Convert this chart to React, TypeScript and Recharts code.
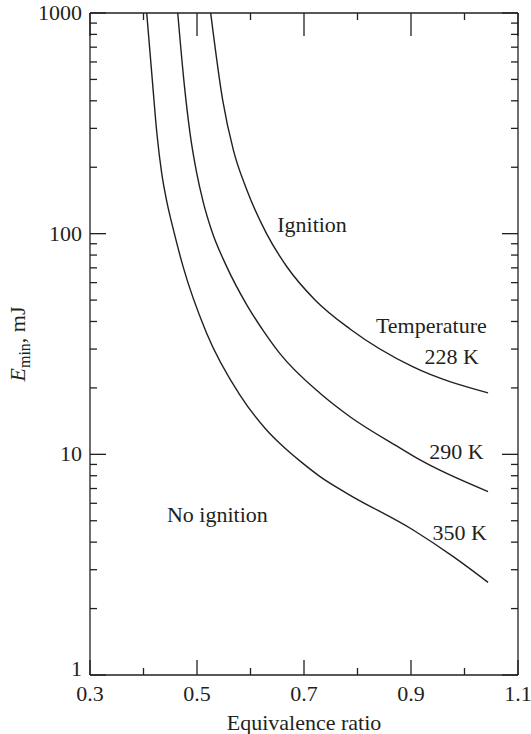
import React from "react";
import { LineChart, Line, XAxis, YAxis, ReferenceDot } from "recharts";

// Minimum ignition energy vs equivalence ratio, three initial temperatures
const phi228 = [0.5256, 0.548, 0.568, 0.593, 0.63, 0.668, 0.7206, 0.786, 0.904, 1.044];
const e228 = [1000, 403, 239, 158, 100, 70.8, 50.1, 37, 24.9, 19.0];

const phi290 = [0.464, 0.476, 0.487, 0.4995, 0.512, 0.527, 0.5555, 0.593, 0.626, 0.655, 0.73, 0.786, 0.879, 0.917, 1.044];
const e290 = [1000, 480, 285, 188, 138, 104, 70.9, 47.6, 35.7, 28.6, 18.9, 14.8, 10.7, 9.43, 6.78];

const phi350 = [0.406, 0.417, 0.425, 0.434, 0.443, 0.456, 0.474, 0.518, 0.58, 0.63, 0.655, 0.698, 0.73, 0.78, 0.904, 0.979, 1.044];
const e350 = [1000, 480, 285, 188, 142, 104, 70.9, 35.4, 18.6, 12.9, 11.2, 9.1, 7.93, 6.66, 4.54, 3.44, 2.63];

const xTicks = [0.3, 0.4, 0.5, 0.6, 0.7, 0.8, 0.9, 1.0, 1.1];
const xLabels = ["0.3", "0.5", "0.7", "0.9", "1.1"];
const yTicks = [1, 2, 3, 4, 5, 6, 7, 8, 9, 10, 20, 30, 40, 50, 60, 70, 80, 90, 100, 200, 300, 400, 500, 600, 700, 800, 900, 1000];

// text annotations [label, phi, E]
const notes: [string, number, number][] = [
  ["Ignition", 0.715, 109],
  ["Temperature", 0.938, 38.2],
  ["228 K", 0.976, 27.7],
  ["290 K", 0.985, 10.3],
  ["350 K", 0.991, 4.4],
  ["No ignition", 0.538, 5.3],
];

const ink = "#231f20";
const font = "'Liberation Serif', 'DejaVu Serif', serif";
const fs = 22;

const toRows = (xs: number[], ys: number[]) => xs.map((phi, i) => ({ phi, e: ys[i] }));

const fmtX = (v: number) => v.toFixed(1);
const isDecade = (v: number) => Math.abs(Math.log10(v) - Math.round(Math.log10(v))) < 1e-6;

const BottomTick = (props: any) => {
  const { x, y, payload } = props;
  const label = fmtX(payload.value);
  const major = xLabels.includes(label);
  return (
    <g>
      <line x1={x} y1={y} x2={x} y2={y - (major ? 15 : 7)} stroke={ink} strokeWidth={1.3} />
      {major && (
        <text x={x} y={y + 26} textAnchor="middle" fontFamily={font} fontSize={fs} fill={ink}>
          {label}
        </text>
      )}
    </g>
  );
};

const TopTick = (props: any) => {
  const { x, y, payload } = props;
  const major = xLabels.includes(fmtX(payload.value));
  return <line x1={x} y1={y} x2={x} y2={y + (major ? 23 : 7)} stroke={ink} strokeWidth={1.3} />;
};

const LeftTick = (props: any) => {
  const { x, y, payload } = props;
  const major = isDecade(payload.value);
  // the "1" sits a little high in the original, clear of the 0.3 label
  const dy = payload.value === 1 ? 1 : 7;
  return (
    <g>
      <line x1={x} y1={y} x2={x + (major ? 16 : 7)} y2={y} stroke={ink} strokeWidth={1.3} />
      {major && (
        <text x={x - 8} y={y + dy} textAnchor="end" fontFamily={font} fontSize={fs} fill={ink}>
          {payload.value}
        </text>
      )}
    </g>
  );
};

const RightTick = (props: any) => {
  const { x, y, payload } = props;
  const major = isDecade(payload.value);
  return <line x1={x} y1={y} x2={x - (major ? 16 : 7)} y2={y} stroke={ink} strokeWidth={1.3} />;
};

const YLabel = (props: any) => {
  const cy = props.viewBox.y + props.viewBox.height / 2;
  const cx = 25;
  return (
    <text transform={`translate(${cx},${cy}) rotate(-90)`} textAnchor="middle" fontFamily={font} fontSize={fs} fill={ink}>
      <tspan fontStyle="italic">E</tspan>
      <tspan fontSize={16} dy={5}>min</tspan>
      <tspan dy={-5}>, mJ</tspan>
    </text>
  );
};

const NoteLabel = (text: string) => (props: any) => {
  const { x, y } = props.viewBox;
  return (
    <text x={x} y={y + 7} textAnchor="middle" fontFamily={font} fontSize={fs} fill={ink}>
      {text}
    </text>
  );
};

export default function App() {
  const curves = [
    { name: "228 K", data: toRows(phi228, e228) },
    { name: "290 K", data: toRows(phi290, e290) },
    { name: "350 K", data: toRows(phi350, e350) },
  ];

  return (
    <div style={{ position: "absolute", left: 0, top: 0, background: "#fff" }}>
      <LineChart width={531} height={734} margin={{ top: 12, right: 12, bottom: 0, left: 0 }}>
        <XAxis
          dataKey="phi"
          type="number"
          domain={[0.3, 1.1]}
          ticks={xTicks}
          allowDataOverflow
          height={59}
          tickSize={0}
          tickMargin={0}
          tickLine={false}
          axisLine={{ stroke: ink, strokeWidth: 1.3 }}
          tick={<BottomTick />}
          interval={0}
          label={{ value: "Equivalence ratio", position: "insideBottom", offset: 4, fontFamily: font, fontSize: fs, fill: ink }}
        />
        <XAxis
          xAxisId="top"
          orientation="top"
          dataKey="phi"
          type="number"
          domain={[0.3, 1.1]}
          ticks={xTicks}
          allowDataOverflow
          height={1}
          tickSize={0}
          tickMargin={0}
          tickLine={false}
          axisLine={{ stroke: ink, strokeWidth: 1.3 }}
          tick={<TopTick />}
          interval={0}
        />
        <YAxis
          dataKey="e"
          scale="log"
          type="number"
          domain={[1, 1000]}
          ticks={yTicks}
          allowDataOverflow
          width={90}
          tickSize={0}
          tickMargin={0}
          tickLine={false}
          axisLine={{ stroke: ink, strokeWidth: 1.3 }}
          tick={<LeftTick />}
          interval={0}
          label={<YLabel />}
        />
        <YAxis
          yAxisId="right"
          orientation="right"
          dataKey="e"
          scale="log"
          type="number"
          domain={[1, 1000]}
          ticks={yTicks}
          allowDataOverflow
          width={1}
          tickSize={0}
          tickMargin={0}
          tickLine={false}
          axisLine={{ stroke: ink, strokeWidth: 1.3 }}
          tick={<RightTick />}
          interval={0}
        />
        {curves.map((c) => (
          <Line
            key={c.name}
            data={c.data}
            dataKey="e"
            type="monotone"
            stroke={ink}
            strokeWidth={1.4}
            dot={false}
            isAnimationActive={false}
          />
        ))}
        {/* hidden copy so the mirrored top/right axes get data */}
        <Line
          data={curves[0].data}
          dataKey="e"
          xAxisId="top"
          yAxisId="right"
          stroke="none"
          dot={false}
          activeDot={false}
          isAnimationActive={false}
        />
        {notes.map(([text, phi, e]) => (
          <ReferenceDot key={text} x={phi} y={e} r={0} stroke="none" fill="none" label={NoteLabel(text)} />
        ))}
      </LineChart>
    </div>
  );
}
